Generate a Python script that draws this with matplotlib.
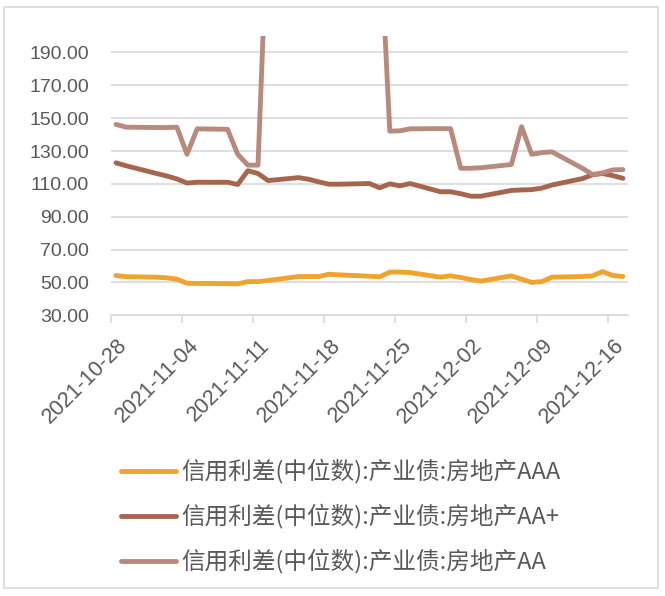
import pandas as pd
import matplotlib
matplotlib.use("Agg")
from matplotlib import pyplot as plt
import matplotlib.dates as mdates
import matplotlib.transforms as mtransforms
from matplotlib.ticker import FormatStrFormatter

dates = ["2021-10-28", "2021-10-29", "2021-11-01", "2021-11-02", "2021-11-03",
         "2021-11-04", "2021-11-05", "2021-11-08", "2021-11-09", "2021-11-10",
         "2021-11-11", "2021-11-12", "2021-11-15", "2021-11-16", "2021-11-17",
         "2021-11-18", "2021-11-19", "2021-11-22", "2021-11-23", "2021-11-24",
         "2021-11-25", "2021-11-26", "2021-11-29", "2021-11-30", "2021-12-01",
         "2021-12-02", "2021-12-03", "2021-12-06", "2021-12-07", "2021-12-08",
         "2021-12-09", "2021-12-10", "2021-12-13", "2021-12-14", "2021-12-15",
         "2021-12-16", "2021-12-17"]

aaa = [54.2, 53.5, 53.2, 52.8, 52.0, 49.5, 49.4, 49.3, 49.1, 50.5,
       50.5, 51.2, 53.6, 53.6, 53.6, 55.0, 54.6, 53.8, 53.4, 56.3,
       56.3, 56.0, 53.2, 54.0, 53.0, 51.8, 50.8, 54.0, 52.0, 50.0,
       50.5, 53.2, 53.6, 54.0, 56.6, 54.2, 53.6]

aa_plus = [122.8, 121.0, 116.3, 114.8, 113.0, 110.5, 111.0, 111.0, 109.6, 118.0,
           116.3, 112.0, 113.8, 112.8, 111.2, 109.8, 109.8, 110.2, 107.6, 110.0,
           108.8, 110.2, 105.2, 105.2, 104.0, 102.5, 102.5, 106.0, 106.3, 106.5,
           107.4, 109.3, 113.2, 115.5, 116.3, 115.0, 113.4]

aa = [146.2, 144.5, 144.3, 144.3, 144.5, 128.0, 143.5, 143.2, 128.0, 121.4,
      121.4, 280.0, 285.0, 290.0, 290.0, 288.0, 285.0, 275.0, 268.0, 142.1,
      142.3, 143.5, 143.6, 143.6, 119.5, 119.5, 119.8, 121.8, 144.8, 128.0,
      129.0, 129.5, 119.5, 115.7, 116.7, 118.5, 118.7]

y_ticks = [30, 50, 70, 90, 110, 130, 150, 170, 190]

labels = ["信用利差(中位数):产业债:房地产AAA",
          "信用利差(中位数):产业债:房地产AA+",
          "信用利差(中位数):产业债:房地产AA"]
colors = ["#F0A32F", "#A6654F", "#B88A7D"]

# excel date axis puts each day's point in the middle of its slot
x = pd.to_datetime(dates) + pd.Timedelta(hours=12)

fig = plt.figure(figsize=(6.65, 5.96), dpi=100)
ax = fig.add_axes([111 / 665, 1 - 315.3 / 596, 517 / 665, 279.3 / 596])

for ys, lab, c in zip([aaa, aa_plus, aa], labels, colors):
    ax.plot(x, ys, color=c, lw=3.5, label=lab,
            solid_capstyle="round", solid_joinstyle="round")

ax.set_ylim(30, 200)
ax.set_yticks(y_ticks)
ax.yaxis.set_major_formatter(FormatStrFormatter("%.2f"))
ax.set_xlim(pd.Timestamp("2021-10-28"), pd.Timestamp("2021-12-18"))
ax.set_xticks(pd.date_range("2021-10-28", "2021-12-16", freq="7D"))
ax.xaxis.set_major_formatter(mdates.DateFormatter("%Y-%m-%d"))

ax.grid(axis="y", color="#D9D9D9", lw=1.2)
ax.set_axisbelow(True)
for s in ["top", "right", "left"]:
    ax.spines[s].set_visible(False)
ax.spines["bottom"].set_color("#D9D9D9")
ax.spines["bottom"].set_linewidth(1.2)

ax.tick_params(axis="y", length=0, pad=16, labelsize=14, labelcolor="#595959")
ax.tick_params(axis="x", length=6, width=1.2, color="#D9D9D9", pad=8,
               labelsize=15.5, labelcolor="#595959")
shift = mtransforms.ScaledTranslation(6 / 100, 0, fig.dpi_scale_trans)
for t in ax.get_yticklabels() + ax.get_xticklabels():
    t.set_family("Liberation Sans")
for t in ax.get_xticklabels():
    t.set_rotation(45)
    t.set_ha("right")
    t.set_va("top")
    t.set_rotation_mode("anchor")
    t.set_transform(t.get_transform() + shift)

leg = fig.legend(loc="upper left", bbox_to_anchor=(121 / 665, 1 - 459 / 596),
                 frameon=False, handlelength=2.35, handletextpad=0.2,
                 labelspacing=0.85, borderpad=0, borderaxespad=0,
                 prop={"family": ["Noto Sans CJK SC", "DejaVu Sans"], "size": 17})
for t in leg.get_texts():
    t.set_color("#595959")

# light frame round the whole picture
fig.patches.append(plt.Rectangle((4 / 665, 8 / 596), 654 / 665, 581 / 596,
                                 transform=fig.transFigure, fill=False,
                                 edgecolor="#D9D9D9", lw=1.2))

fig.savefig("out.png", dpi=100)
